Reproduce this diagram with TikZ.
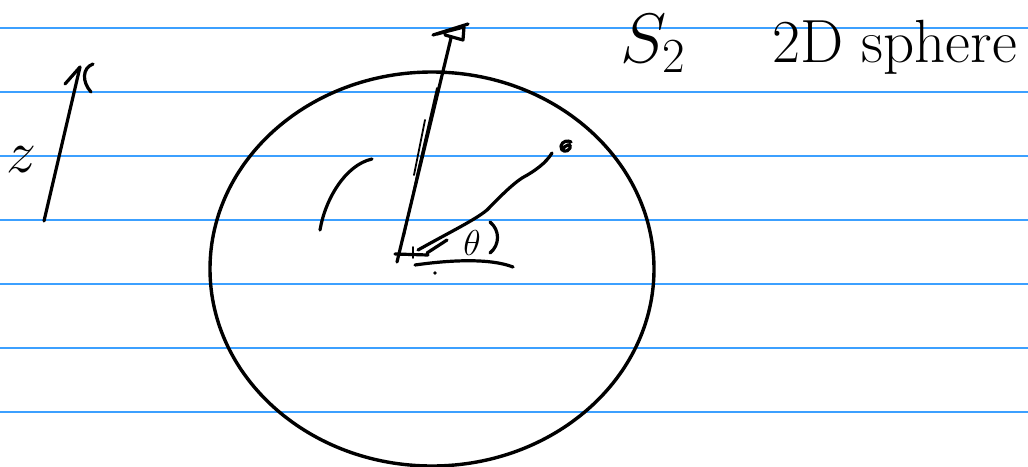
\RequirePackage{fix-cm}
\documentclass[tikz,border=0pt]{standalone}
\begin{document}
\begin{tikzpicture}[x=1pt,y=-1pt,
  ink/.style={line width=3.2pt, line cap=round, line join=round},
  thinink/.style={line width=1.8pt, line cap=round, line join=round},
  rule/.style={draw=rulecol, line width=1.3pt},
  hand/.style={inner sep=0pt, outer sep=0pt, text=black}]
\definecolor{rulecol}{RGB}{60,160,255}
\useasboundingbox (0,0) rectangle (1028,466);
\fill[white] (0,0) rectangle (1028,466);
\foreach \y in {28,92,156,220,284,348,412} \draw[rule] (0,\y) -- (1028,\y);

% sphere outline
\draw[ink, line width=3.4pt] (432,269) ellipse [x radius=222pt, y radius=197pt];

% left axis arrow
\coordinate (A0) at (44,221);
\coordinate (A1) at (80,67);
\draw[ink] (A0) -- (A1);
\draw[ink] (65,84) -- (A1);
\draw[ink] (93,64) .. controls (82,68) and (82,82) .. (91,92);
\node[hand, font=\fontsize{60}{60}\selectfont] (zlab) at (21,160) {$z$};

% centre and vertical vector
\coordinate (O) at (397,262);
\coordinate (T) at (451,38);
\draw[ink] (O) -- (T);
\draw[thinink] (404,236) -- (417,175) -- (437,88);
\draw[thinink] (414,175) -- (425,120);
% arrow head at top
\draw[ink] (433,35) -- (468,24);
\draw[ink] (437,34) -- (464,27) -- (463,40) -- (445,35);

% corner mark
\coordinate (C1) at (428,255);
\draw[ink] (395,254) -- (C1);
\draw[thinink] (413,247) -- (413,258);

% radial line to point
\coordinate (P) at (552,153);
\draw[ink] (418,250) .. controls (450,232) and (475,220) .. (487,210)
  .. controls (497,200) and (510,186) .. (522,178) .. controls (535,171) and (546,163) .. (P);
\draw[ink] (562,150) .. controls (566,144) and (572,143) .. (570,148)
  .. controls (568,153) and (560,152) .. (561,146) .. controls (562,141) and (568,140) .. (571,142);

% angle arc and label
\draw[ink] (427,253) -- (447,240);
\node[hand, font=\fontsize{36}{36}\selectfont] (th) at (472,243) {$\theta$};
\draw[ink] (490,222) .. controls (500,230) and (500,245) .. (490,253);
\draw[ink] (415,265) .. controls (450,260) and (490,258) .. (513,267);
\fill (435,273) circle (1.8pt);

% left arc
\draw[ink] (320,230) .. controls (325,200) and (345,165) .. (372,159);

% labels top right
\node[hand, anchor=base west, font=\fontsize{70}{70}\selectfont] (S2) at (620,62) {$S_{2}$};
\node[hand, anchor=base west, font=\fontsize{61}{61}\selectfont] (title) at (772,62) {2D sphere};
\end{tikzpicture}
\end{document}
